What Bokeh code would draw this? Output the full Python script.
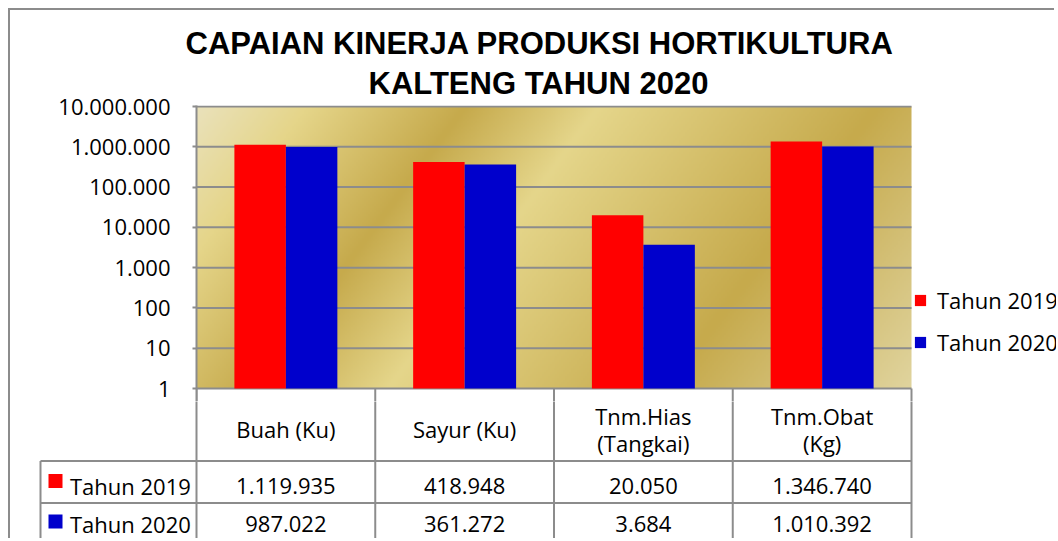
import numpy as np
from bokeh.plotting import figure
from bokeh.models import (ColumnDataSource, Range1d, FixedTicker,
                          CustomJSTickFormatter, Legend, LegendItem, Title)
from bokeh.transform import dodge
from bokeh.core.properties import value
from bokeh.embed import file_html
from bokeh.resources import INLINE

# ---------------- data ----------------
categories = ["Buah (Ku)", "Sayur (Ku)", "Tnm.Hias\n(Tangkai)", "Tnm.Obat\n(Kg)"]
series = ["Tahun 2019", "Tahun 2020"]
values_2019 = [1119935, 418948, 20050, 1346740]
values_2020 = [987022, 361272, 3684, 1010392]
y_ticks = [1, 10, 100, 1000, 10000, 100000, 1000000, 10000000]
title_lines = ["CAPAIAN KINERJA PRODUKSI HORTIKULTURA", "KALTENG TAHUN 2020"]

# ---------------- style / layout ----------------
colors = ["#FF0000", "#0000CC"]
GRAY = "#8C8C8C"
FONT = "Open Sans"
W = 1046                 # canvas width (page x 10..1056)
FL, FR = 186, 901        # plot-area left/right in canvas px
PT, PB = 96, 378         # plot-area top (10M line) / bottom (1 line) in canvas px
B = 15                   # px of table drawn inside p1 below the "1" line
H1 = PB + B
H2 = 137
CW = (FR - FL) / 4.0     # px per category slot
DEC = (PB - PT) / 7.0    # px per decade
n = len(categories)


def fmt(v):
    return f"{v:,}".replace(",", ".")


src = ColumnDataSource(dict(cat=categories, xc=[i + 0.5 for i in range(n)],
                            v2019=values_2019, v2020=values_2020))

y_lo = 10 ** (-B / DEC)
y_hi = 10 ** (7 + 1.0 / DEC)
p1 = figure(width=W, height=H1, x_range=Range1d(0, (W - FL) / CW),
            y_range=Range1d(y_lo, y_hi), y_axis_type="log", title=None,
            output_backend="svg", toolbar_location=None, x_axis_location=None,
            min_border_left=FL, min_border_right=0, min_border_top=PT - 1,
            min_border_bottom=0)
p1.styles = {"margin-left": "8px", "margin-top": "8px",
             "border-top": f"2px solid {GRAY}", "border-left": f"2px solid {GRAY}"}
p1.grid.visible = False
p1.outline_line_color = None
p1.border_fill_color = "white"
p1.background_fill_color = "white"

# gold diagonal gradient background of the plot area
nx, ny = 358, 141
fw, fh = FR - FL, PB - PT
xs = (np.arange(nx) + 0.5) * fw / nx
ys = (np.arange(ny) + 0.5) * fh / ny
X, Yb = np.meshgrid(xs, ys)
t = 0.8 * X + 0.6 * (fh - Yb)
stops_t = [0, 90, 215, 322, 545, 740]
stops_c = [(234, 226, 188), (229, 213, 137), (198, 170, 76), (229, 214, 139),
           (198, 170, 76), (224, 212, 158)]
img = np.zeros((ny, nx), dtype=np.uint32)
view = img.view(dtype=np.uint8).reshape((ny, nx, 4))
for k in range(3):
    view[..., k] = np.interp(t, stops_t, [c[k] for c in stops_c]).astype(np.uint8)
view[..., 3] = 255
p1.image_rgba(image=[img], x=0, y=1, dw=n, dh=y_ticks[-1] - 1, level="image")

# horizontal grid lines over the plot area, column lines going down into the table
p1.segment(x0=[0] * len(y_ticks), x1=[n] * len(y_ticks), y0=y_ticks, y1=y_ticks,
           line_color=GRAY, line_width=2)
p1.segment(x0=list(range(n + 1)), x1=list(range(n + 1)), y0=[1] * (n + 1),
           y1=[y_lo / 2] * (n + 1), line_color=GRAY, line_width=2)

r19 = p1.vbar(x=dodge("xc", -0.144), top="v2019", bottom=1,
              width=0.288, source=src, fill_color=colors[0], line_color=None)
r20 = p1.vbar(x=dodge("xc", 0.144), top="v2020", bottom=1,
              width=0.288, source=src, fill_color=colors[1], line_color=None)

p1.yaxis.ticker = FixedTicker(ticks=y_ticks)
p1.yaxis.formatter = CustomJSTickFormatter(
    code="return Math.round(tick).toString().replace(/\\B(?=(\\d{3})+(?!\\d))/g, '.');")
p1.yaxis.axis_line_color = GRAY
p1.yaxis.axis_line_width = 2
p1.yaxis.major_tick_line_color = GRAY
p1.yaxis.major_tick_line_width = 2
p1.yaxis.major_tick_out = 4
p1.yaxis.major_tick_in = 0
p1.yaxis.minor_tick_line_color = None
p1.yaxis.major_label_text_font = FONT
p1.yaxis.major_label_text_font_size = "22px"
p1.yaxis.major_label_text_color = "#000000"
p1.yaxis.major_label_standoff = 22

# two title lines (first added sits nearest the plot)
p1.add_layout(Title(text=title_lines[1], align="left", offset=172,
                    text_font="Liberation Sans", text_font_size="31px",
                    text_font_style="bold", text_color="#000000", standoff=9), "above")
p1.add_layout(Title(text=title_lines[0], align="left", offset=-11,
                    text_font="Liberation Sans", text_font_size="31px",
                    text_font_style="bold", text_color="#000000", standoff=-3), "above")

legend = Legend(items=[LegendItem(label=series[0], renderers=[r19]),
                       LegendItem(label=series[1], renderers=[r20])],
                location=(FR - FL + 2, 46), glyph_width=14, glyph_height=14,
                label_standoff=10, spacing=12, padding=0, margin=0,
                border_line_color=None, background_fill_alpha=0,
                label_text_font=FONT, label_text_font_size="22px",
                label_text_color="#000000")
p1.add_layout(legend, "center")

# ---------------- data table ----------------
p2 = figure(width=W, height=H2, x_range=Range1d(-FL / CW, (W - FL) / CW),
            y_range=Range1d(-B - H2, -B), output_backend="svg",
            toolbar_location=None, x_axis_location=None, y_axis_location=None,
            min_border_left=0, min_border_right=0, min_border_top=0,
            min_border_bottom=0)
p2.styles = {"margin-left": "8px", "border-left": f"2px solid {GRAY}"}
p2.grid.visible = False
p2.outline_line_color = None
p2.border_fill_color = "white"
p2.background_fill_color = "white"

HDR_BOT, R1_BOT, TBL_BOT = -74.5, -116.5, -(B + H2 + 5)
LABEL_L = (30 - FL) / CW
seg_x0 = [i for i in range(n + 1)] + [LABEL_L, LABEL_L, LABEL_L]
seg_x1 = [i for i in range(n + 1)] + [LABEL_L, n, n]
seg_y0 = [0] * (n + 1) + [HDR_BOT, HDR_BOT, R1_BOT]
seg_y1 = [TBL_BOT] * (n + 1) + [TBL_BOT, HDR_BOT, R1_BOT]
p2.segment(x0=seg_x0, y0=seg_y0, x1=seg_x1, y1=seg_y1, line_color=GRAY, line_width=2)

cx = [i + 0.5 for i in range(n)]
p2.text(x=cx, y=[-42.5] * n, text=categories, text_font=value(FONT),
        text_font_size="22px", text_align="center", text_baseline="middle",
        text_line_height=0.9, text_color="#000000")
row_y = [-99.5, -137.5]
for vals, ry in zip([values_2019, values_2020], row_y):
    p2.text(x=cx, y=[ry] * n, text=[fmt(v) for v in vals], text_font=value(FONT),
            text_font_size="22px", text_align="center", text_baseline="middle",
            text_color="#000000")

SQ_X = (45 - FL) / CW
LBL_X = (59.5 - FL) / CW
p2.rect(x=[SQ_X, SQ_X], y=[-94.5, -135], width=14, height=14,
        width_units="screen", height_units="screen", fill_color=colors, line_color=None)
p2.text(x=[LBL_X, LBL_X], y=row_y, text=series, text_font=value(FONT),
        text_font_size="22px", text_align="left", text_baseline="middle",
        text_color="#000000")

open("out.html", "w").write(file_html([p1, p2], INLINE))
